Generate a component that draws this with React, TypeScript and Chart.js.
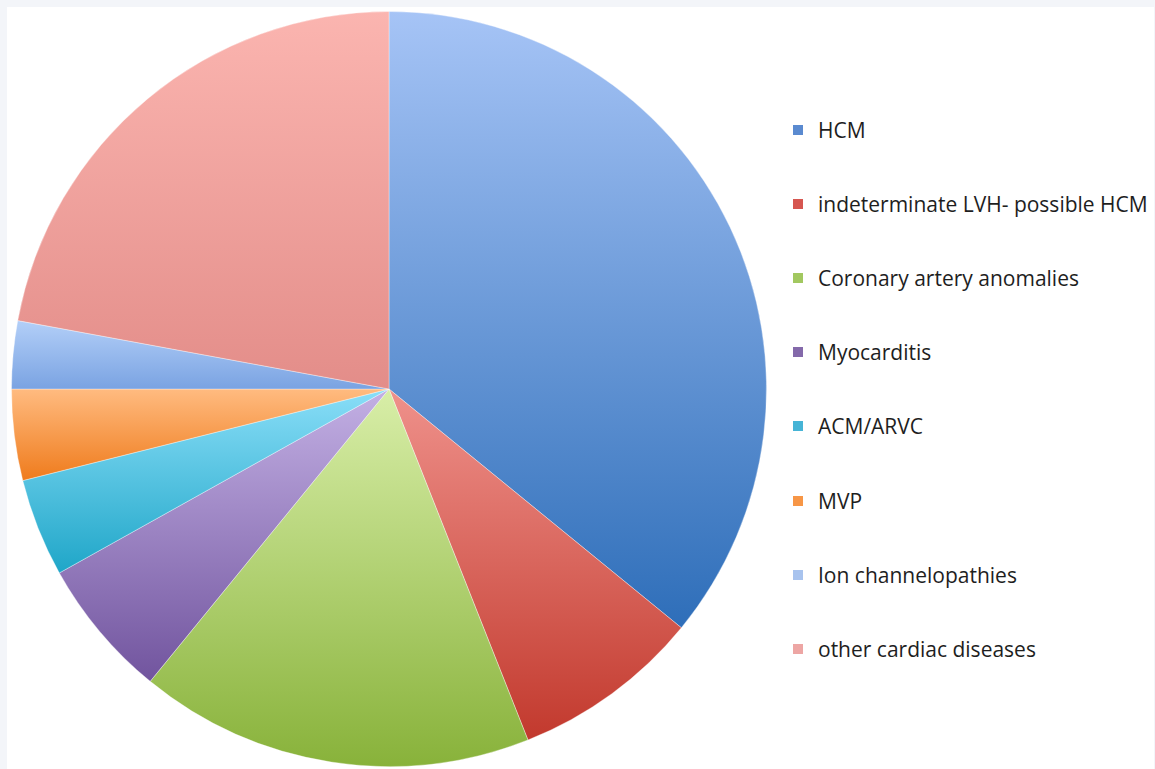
import React, { useEffect, useRef } from "react";
import { Chart, registerables } from "chart.js";

Chart.register(...registerables);

const labels: string[] = [
  "HCM",
  "indeterminate LVH- possible HCM",
  "Coronary artery anomalies",
  "Myocarditis",
  "ACM/ARVC",
  "MVP",
  "Ion channelopathies",
  "other cardiac diseases",
];

const values: number[] = [35.9, 8.1, 16.9, 6.0, 4.2, 3.9, 2.9, 22.1];

const topColors: string[] = ["#a6c4f6", "#ef918b", "#d8eea8", "#c3b0e4", "#8adef8", "#ffbb80", "#b3cff8", "#fbb5b0"];
const bottomColors: string[] = ["#2e6eb9", "#c2392d", "#88b23a", "#71549e", "#1fa6c8", "#ef7b1c", "#7aa3e2", "#e38d89"];
const legendColors: string[] = ["#5a8ad0", "#d65650", "#a2c860", "#8469aa", "#46b4d6", "#f79646", "#a8c3ee", "#eda6a4"];

function sliceGradient(ctx: any) {
  const chart = ctx.chart;
  const area = chart.chartArea;
  const i = ctx.dataIndex;
  if (!area || i === undefined) return legendColors[i ?? 0];
  const cx = (area.left + area.right) / 2;
  const cy = (area.top + area.bottom) / 2;
  const r = Math.min(area.right - area.left, area.bottom - area.top) / 2;
  const total = values.reduce((a, b) => a + b, 0);
  let start = -Math.PI / 2;
  for (let k = 0; k < i; k++) start += (values[k] / total) * Math.PI * 2;
  const end = start + (values[i] / total) * Math.PI * 2;
  const ys = [cy, cy + r * Math.sin(start), cy + r * Math.sin(end)];
  const within = (a: number) => {
    for (let s = -2; s <= 2; s++) {
      const t = a + s * Math.PI * 2;
      if (t >= start - 1e-9 && t <= end + 1e-9) return true;
    }
    return false;
  };
  if (within(-Math.PI / 2)) ys.push(cy - r);
  if (within(Math.PI / 2)) ys.push(cy + r);
  const y0 = Math.min(...ys);
  const y1 = Math.max(...ys);
  const g = chart.ctx.createLinearGradient(0, y0, 0, y1);
  g.addColorStop(0, topColors[i]);
  g.addColorStop(1, bottomColors[i]);
  return g;
}

export default function App() {
  const canvasRef = useRef<HTMLCanvasElement | null>(null);

  useEffect(() => {
    document.body.style.margin = "0";
    document.body.style.background = "#f3f5f9";
    const chart = new Chart(canvasRef.current as HTMLCanvasElement, {
      type: "pie",
      data: {
        labels,
        datasets: [
          {
            data: values,
            backgroundColor: sliceGradient as any,
            borderColor: "rgba(255,255,255,0.35)",
            borderWidth: 1,
          },
        ],
      },
      options: {
        animation: false,
        responsive: false,
        layout: { padding: { top: 11, bottom: 2, left: 11, right: 13 } },
        plugins: {
          legend: { display: false },
          tooltip: { enabled: false },
        },
      },
    });
    return () => chart.destroy();
  }, []);

  return (
    <div style={{ position: "relative", width: 1155, height: 769, overflow: "hidden" }}>
      <div style={{ position: "absolute", left: 7, top: 7, width: 1147, height: 762, background: "#ffffff" }} />
      <canvas ref={canvasRef} width={780} height={769} style={{ position: "absolute", left: 0, top: 0 }} />
      {labels.map((lab, i) => (
        <div
          key={lab}
          style={{
            position: "absolute",
            left: 793,
            top: 130 + i * 74.1 - 15,
            height: 30,
            display: "flex",
            alignItems: "center",
            whiteSpace: "nowrap",
            fontFamily: "'Open Sans', sans-serif",
            fontSize: 21,
            color: "#1e1e1e",
          }}
        >
          <span style={{ display: "inline-block", width: 10, height: 10, background: legendColors[i], marginRight: 15 }} />
          <span>{lab}</span>
        </div>
      ))}
    </div>
  );
}
